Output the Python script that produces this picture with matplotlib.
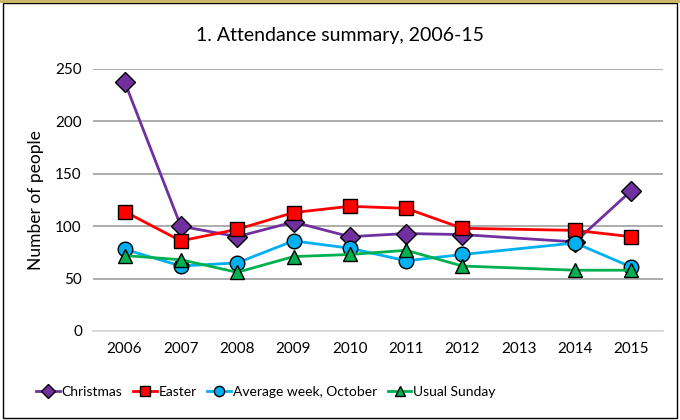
import numpy as np
import matplotlib.pyplot as plt
from matplotlib.patches import Rectangle

plt.rcParams['font.family'] = ['Lato', 'DejaVu Sans']

years = ["2006", "2007", "2008", "2009", "2010", "2011", "2012", "2013", "2014", "2015"]
christmas = [238, 100, 90, 104, 90, 93, 92, np.nan, 85, 134]
easter = [114, 86, 97, 113, 119, 117, 98, np.nan, 96, 90]
avg_october = [78, 62, 65, 86, 79, 67, 73, np.nan, 84, 61]
usual_sunday = [72, 68, 56, 71, 73, 77, 62, np.nan, 58, 58]

series = [
    ("Christmas", christmas, "#7030A0", "D", 10),
    ("Easter", easter, "#FF0000", "s", 10),
    ("Average week, October", avg_october, "#00B0F0", "o", 10.5),
    ("Usual Sunday", usual_sunday, "#00B050", "^", 10.5),
]

fig = plt.figure(figsize=(6.8, 4.2), dpi=100)
ax = fig.add_axes([93 / 680, 1 - 331 / 420, (663 - 93) / 680, (331 - 69) / 420])

x = np.arange(len(years))
for name, vals, color, marker, ms in series:
    vals = np.array(vals, dtype=float)
    ok = ~np.isnan(vals)
    ax.plot(x[ok], vals[ok], color=color, lw=2, marker=marker, ms=ms,
            mfc=color, mec="black", mew=1, label=name, zorder=3)

ax.set_xlim(-0.56, len(years) - 0.44)
ax.set_ylim(0, 250)
ax.set_yticks(range(0, 251, 50))
ax.set_xticks(x)
ax.set_xticklabels(years)
ax.yaxis.grid(True, color="#A6A6A6", lw=1.3)
ax.set_axisbelow(True)
for s in ["top", "right", "left"]:
    ax.spines[s].set_visible(False)
ax.spines["bottom"].set_color("#D9D9D9")
ax.spines["bottom"].set_linewidth(1.3)
ax.tick_params(length=0, labelsize=11, pad=8)
ax.set_ylabel("Number of people", fontsize=12.5, labelpad=8)

fig.text(0.5, 1 - 35 / 420, "1. Attendance summary, 2006-15", ha="center",
         va="center", fontsize=14)

fig.legend(loc="center", bbox_to_anchor=(266 / 680, 1 - 392 / 420), ncol=4,
           frameon=False, fontsize=10, handlelength=1.7, handletextpad=0.15,
           columnspacing=0.75, markerscale=0.7)

fig.patches.append(Rectangle((0.004, 0.004), 0.992, 0.99, transform=fig.transFigure,
                             fill=False, edgecolor="black", lw=1))
fig.patches.append(Rectangle((0, 0.994), 1, 0.006, transform=fig.transFigure,
                             fill=True, facecolor="#C9B86A", edgecolor="none"))

fig.savefig("out.png", dpi=100)
